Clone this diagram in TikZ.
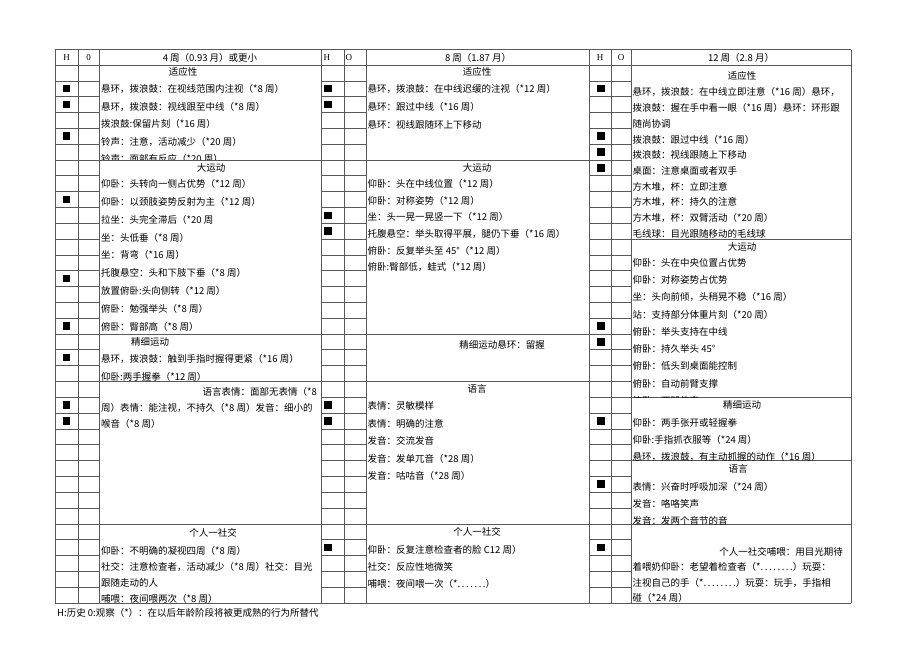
\documentclass[tikz,border=0pt]{standalone}
\usepackage{fontspec}
\setmainfont{Noto Sans CJK SC}
\newfontfamily\latfont{Liberation Serif}

\newcommand{\ptsseven}{.\,.\,.\,.\,.\,.\,.}
\newcommand{\ptseight}{.\,.\,.\,.\,.\,.\,.\,.}

\tikzstyle{grid} = [draw=black!65, line width=0.55pt]
\tikzstyle{cell} = [anchor=west, inner sep=0pt, font=\fontsize{9.5}{11}\selectfont]
\tikzstyle{cellR} = [cell, anchor=east]
\tikzstyle{title} = [anchor=center, inner sep=0pt, font=\fontsize{9.5}{11}\selectfont]
\tikzstyle{colhead} = [anchor=center, inner sep=0pt, font=\latfont\fontsize{9}{11}\selectfont]
\tikzstyle{hmark} = [rectangle, fill=black, minimum size=7.5pt, inner sep=0pt]

\begin{document}
\begin{tikzpicture}[x=1pt, y=-1pt]
    \useasboundingbox (0,0) rectangle (920,651);

    % frame and column lines
    \draw[grid] (55,49.5) -- (851,49.5);
    \draw[grid] (55,65) -- (851,65);
    \draw[grid] (55,603) -- (851,603);
    \foreach \x in {55,78,99,321,344,366,589,611,631,851}
        \draw[grid] (\x,49.5) -- (\x,603);

    % rows of the H / O columns
    \foreach \r in {1,...,33} {
        \draw[grid] (55,{65+\r*15.82}) -- (99,{65+\r*15.82});
        \draw[grid] (321,{65+\r*15.82}) -- (366,{65+\r*15.82});
        \draw[grid] (589,{65+\r*15.82}) -- (631,{65+\r*15.82});
    }

    % section lines
    \foreach \r in {6,17,20,29} {
        \draw[grid] (99,{65+\r*15.82}) -- (321,{65+\r*15.82});
        \draw[grid] (366,{65+\r*15.82}) -- (589,{65+\r*15.82});
    }
    \foreach \r in {11,21,25,29}
        \draw[grid] (631,{65+\r*15.82}) -- (851,{65+\r*15.82});

    % marks
    \foreach \r [count=\i] in {1,2,4,8,13,16,18,21,22}
        \node (hL\i) [hmark] at (66.5,{65+(\r+0.5)*15.82}) {};
    \foreach \r [count=\i] in {1,2,9,10,21,22,30}
        \node (hM\i) [hmark] at (328,{65+(\r+0.5)*15.82}) {};
    \foreach \r [count=\i] in {1,4,5,6,16,17,22,26,30}
        \node (hR\i) [hmark] at (601,{65+(\r+0.5)*15.82}) {};

    % headers
    \node (hdL-H) [colhead] at (66.5,57.5) {H};
    \node (hdL-O) [colhead] at (88.5,57.5) {0};
    \node (hdL) [title] at (210,57.5) {4 周（0.93 月）或更小};
    \node (hdM-H) [colhead, anchor=west] at (323.5,57.5) {H};
    \node (hdM-O) [colhead, anchor=west] at (345.5,57.5) {O};
    \node (hdM) [title] at (478,57.5) {8 周（1.87 月）};
    \node (hdR-H) [colhead] at (600,57.5) {H};
    \node (hdR-O) [colhead] at (621,57.5) {O};
    \node (hdR) [title] at (741,57.5) {12 周（2.8 月）};

    % 4 weeks
    \begin{scope}
        \clip (99,65) rectangle (321,{65+6*15.82});
        \node (adL) [title] at (183,72) {适应性};
        \foreach \t [count=\i] in {悬环，拨浪鼓：在视线范围内注视（*8 周）, 悬环，拨浪鼓：视线跟至中线（*8 周）, 拨浪鼓:保留片刻（*16 周）, 铃声：注意，活动减少（*20 周）, 铃声：面部有反应（*20 周）}
            \node (adL-\i) [cell] at (101,{89+(\i-1)*17.5}) {\t};
    \end{scope}
    \node (gmL) [title] at (211,167.5) {大运动};
    \foreach \t [count=\i] in {仰卧：头转向一侧占优势（*12 周）, 仰卧：以颈肢姿势反射为主（*12 周）, 拉坐：头完全滞后（*20 周, 坐：头低垂（*8 周）, 坐：背弯（*16 周）, 托腹悬空：头和下肢下垂（*8 周）, 放置俯卧:头向侧转（*12 周）, 俯卧：勉强举头（*8 周）, 俯卧：臀部高（*8 周）}
        \node (gmL-\i) [cell] at (101,{184+(\i-1)*17.8}) {\t};
    \node (fmL) [title] at (150,341.5) {精细运动};
    \node (fmL-1) [cell] at (101,359) {悬环，拨浪鼓：触到手指时握得更紧（*16 周）};
    \node (fmL-2) [cell] at (101,376.5) {仰卧:两手握拳（*12 周）};
    \node (lgL-1) [cellR] at (317,392.3) {语言表情：面部无表情（*8};
    \node (lgL-2) [cell] at (101,408.3) {周）表情：能注视，不持久（*8 周）发音：细小的};
    \node (lgL-3) [cell] at (101,424.3) {喉音（*8 周）};
    \node (psL) [title] at (213,533.3) {个人一社交};
    \foreach \t [count=\i] in {仰卧：不明确的凝视四周（*8 周）, 社交：注意检查者，活动减少（*8 周）社交：目光, 跟随走动的人, 哺喂：夜间喂两次（*8 周）}
        \node (psL-\i) [cell] at (101,{551+(\i-1)*16}) {\t};

    % 8 weeks
    \node (adM) [title] at (477,72) {适应性};
    \foreach \t [count=\i] in {悬环，拨浪鼓：在中线迟缓的注视（*12 周）, 悬环：跟过中线（*16 周）, 悬环：视线跟随环上下移动}
        \node (adM-\i) [cell] at (367.5,{89+(\i-1)*17.8}) {\t};
    \node (gmM) [title] at (477,167.5) {大运动};
    \foreach \t [count=\i] in {仰卧：头在中线位置（*12 周）, 仰卧：对称姿势（*12 周）, 坐：头一晃一晃竖一下（*12 周）, 托腹悬空：举头取得平展，腿仍下垂（*16 周）, 俯卧：反复举头至 45°（*12 周）, 俯卧:臀部低，蛙式（*12 周）}
        \node (gmM-\i) [cell] at (367.5,{184+(\i-1)*16.6}) {\t};
    \node (fmM) [title] at (502,345) {精细运动悬环：留握};
    \node (lgM) [title] at (477,389.3) {语言};
    \foreach \t [count=\i] in {表情：灵敏模样, 表情：明确的注意, 发音：交流发音, 发音：发单兀音（*28 周）, 发音：咕咕音（*28 周）}
        \node (lgM-\i) [cell] at (367.5,{406+(\i-1)*17.5}) {\t};
    \node (psM) [title] at (477,531.7) {个人一社交};
    \foreach \t [count=\i] in {仰卧：反复注意检查者的脸 C12 周）, 社交：反应性地微笑, 哺喂：夜间喂一次（*\ptsseven）}
        \node (psM-\i) [cell] at (367.5,{550+(\i-1)*16.7}) {\t};

    % 12 weeks
    \node (adR) [title] at (742,75.5) {适应性};
    \foreach \t [count=\i] in {悬环，拨浪鼓：在中线立即注意（*16 周）悬环，, 拨浪鼓：握在手中看一眼（*16 周）悬环：环形跟, 随尚协调, 拨浪鼓：跟过中线（*16 周）, 拨浪鼓：视线跟随上下移动, 桌面：注意桌面或者双手, 方木堆，杯：立即注意, 方木堆，杯：持久的注意, 方木堆，杯：双臂活动（*20 周）, 毛线球：目光跟随移动的毛线球}
        \node (adR-\i) [cell] at (632.5,{92.3+(\i-1)*15.7}) {\t};
    \begin{scope}
        \clip (631,{65+11*15.82}) rectangle (851,{65+21*15.82});
        \node (gmR) [title] at (742,246.7) {大运动};
        \foreach \t [count=\i] in {仰卧：头在中央位置占优势, 仰卧：对称姿势占优势, 坐：头向前倾，头稍晃不稳（*16 周）, 站：支持部分体重片刻（*20 周）, 俯卧：举头支持在中线, 俯卧：持久举头 45°, 俯卧：低头到桌面能控制, 俯卧：自动前臂支撑, 俯卧：两腿伸直}
            \node (gmR-\i) [cell] at (632.5,{263+(\i-1)*17.2}) {\t};
    \end{scope}
    \node (fmR) [title] at (742,405) {精细运动};
    \foreach \t [count=\i] in {仰卧：两手张开或轻握拳, 仰卧:手指抓衣服等（*24 周）, 悬环，拨浪鼓，有主动抓握的动作（*16 周）}
        \node (fmR-\i) [cell] at (632.5,{422.7+(\i-1)*16.9}) {\t};
    \node (lgR) [title] at (738,469.3) {语言};
    \foreach \t [count=\i] in {表情：兴奋时呼吸加深（*24 周）, 发音：咯咯笑声, 发音：发两个音节的音}
        \node (lgR-\i) [cell] at (632.5,{486.7+(\i-1)*17}) {\t};
    \node (psR-1) [cellR] at (843,551.7) {个人一社交哺喂：用目光期待};
    \foreach \t [count=\i from 2] in {着喂奶仰卧：老望着检查者（*\ptseight）玩耍：, 注视自己的手（*\ptseight）玩耍：玩手，手指相, 碰（*24 周）}
        \node (psR-\i) [cell] at (632.5,{567.3+(\i-2)*15.5}) {\t};

    % note under the table
    \node (note) [cell] at (57,613) {H:历史 0:观察（*）：在以后年龄阶段将被更成熟的行为所替代};

\end{tikzpicture}
\end{document}
